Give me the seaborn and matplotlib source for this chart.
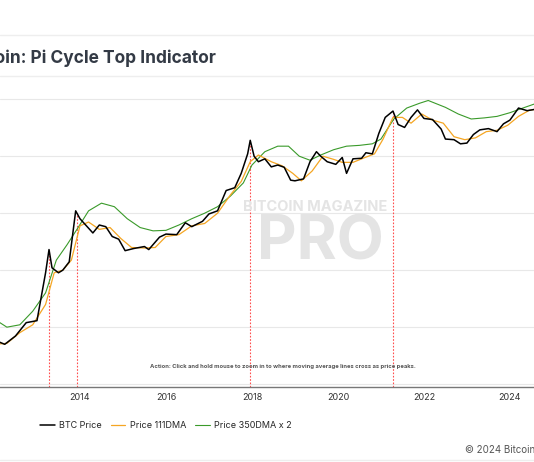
import matplotlib
matplotlib.use("Agg")
import matplotlib.pyplot as plt
import numpy as np
import pandas as pd
import seaborn as sns

# BTC price (decimal year, USD)
price_t = [2012.0, 2012.25, 2012.5, 2012.75, 2013.0, 2013.2, 2013.28, 2013.35, 2013.5, 2013.6, 2013.75,
           2013.9, 2014.0, 2014.15, 2014.3, 2014.45, 2014.6, 2014.75, 2014.9, 2015.05, 2015.25, 2015.5,
           2015.6, 2015.85, 2016.0, 2016.25, 2016.45, 2016.6, 2016.85, 2017.0, 2017.2, 2017.4, 2017.6,
           2017.75, 2017.9, 2017.96, 2018.05, 2018.15, 2018.3, 2018.45, 2018.6, 2018.75, 2018.9, 2019.0,
           2019.2, 2019.35, 2019.5, 2019.6, 2019.75, 2019.95, 2020.1, 2020.2, 2020.35, 2020.55, 2020.65,
           2020.8, 2020.95, 2021.1, 2021.28, 2021.4, 2021.55, 2021.7, 2021.85, 2022.0, 2022.2, 2022.4,
           2022.5, 2022.7, 2022.85, 2023.0, 2023.15, 2023.3, 2023.5, 2023.7, 2023.85, 2024.0, 2024.2,
           2024.4, 2024.56]
price_v = [6, 5, 7, 12, 13, 90, 230, 110, 90, 100, 140,
           1100, 800, 600, 450, 620, 580, 390, 350, 220, 240, 260,
           230, 380, 430, 420, 680, 580, 720, 970, 1100, 2500, 2800,
           5000, 11000, 19000, 10000, 8000, 9000, 6500, 7000, 6400, 3800, 3700,
           4000, 8000, 12000, 10000, 8000, 7200, 9500, 5000, 9000, 9200, 11500,
           11000, 25000, 48000, 62000, 36000, 32000, 48000, 65000, 46000, 44000, 30000,
           20000, 19500, 16500, 17000, 24000, 29000, 30500, 27000, 37000, 43000, 70000,
           63000, 66000]

dma111_t = [2012.0, 2012.3, 2012.6, 2012.9, 2013.2, 2013.4, 2013.6, 2013.8, 2014.0, 2014.2, 2014.45,
            2014.7, 2014.95, 2015.2, 2015.5, 2015.75, 2016.0, 2016.3, 2016.6, 2016.9, 2017.2, 2017.5,
            2017.75, 2017.96, 2018.15, 2018.45, 2018.7, 2018.95, 2019.15, 2019.4, 2019.65, 2019.9,
            2020.1, 2020.35, 2020.6, 2020.85, 2021.05, 2021.28, 2021.5, 2021.7, 2021.95, 2022.2,
            2022.45, 2022.7, 2022.95, 2023.2, 2023.45, 2023.7, 2023.95, 2024.2, 2024.45, 2024.56]
dma111_v = [5, 5.2, 8, 11, 25, 90, 100, 150, 600, 700, 520,
            560, 360, 250, 245, 250, 390, 420, 600, 660, 1000, 2100,
            3600, 8000, 10500, 8000, 6800, 5000, 3700, 5500, 10000, 8800,
            7800, 7800, 9300, 11000, 20000, 48000, 48000, 38000, 55000, 43000,
            38000, 22000, 19500, 21000, 27000, 28500, 35000, 50000, 64000, 66000]

dma350_t = [2012.0, 2012.3, 2012.6, 2012.9, 2013.2, 2013.45, 2013.7, 2013.95, 2014.2, 2014.5, 2014.8,
            2015.1, 2015.4, 2015.7, 2016.0, 2016.3, 2016.6, 2016.9, 2017.2, 2017.5, 2017.8, 2018.0,
            2018.3, 2018.6, 2018.85, 2019.1, 2019.35, 2019.6, 2019.9, 2020.2, 2020.5, 2020.8, 2021.0,
            2021.3, 2021.6, 2021.9, 2022.1, 2022.5, 2022.8, 2023.1, 2023.4, 2023.7, 2024.0, 2024.3, 2024.56]
dma350_v = [14, 10, 11, 19, 40, 150, 280, 550, 1100, 1500, 1300,
            800, 560, 490, 500, 620, 800, 1000, 1300, 2000, 3400, 7000,
            12000, 15000, 15000, 10000, 8500, 10500, 13000, 15000, 15500, 16500, 20000,
            45000, 70000, 85000, 95000, 72000, 55000, 45000, 47000, 50000, 58000, 70000, 82000]

cross_t = [2013.28, 2013.93, 2017.96, 2021.28]
cross_v = [230, 1000, 17000, 60000]

sns.set_style("white")
plt.rcParams['font.family'] = ['Inter', 'DejaVu Sans']

fig = plt.figure(figsize=(5.34, 4.62), dpi=100)
ax = fig.add_axes([0, 1 - 387 / 462, 1, (387 - 77) / 462])

ax.set_yscale('log')
ax.set_ylim(10 ** -0.05, 10 ** 5.39)
ax.set_xlim(2012.14, 2024.56)

for lv in [1, 10, 100, 1000, 1e4, 1e5]:
    ax.axhline(lv, color='#e8e8e8', lw=0.8, zorder=0)

# watermark
fig.text(320 / 534, 1 - 243 / 462, 'PRO', fontsize=44, fontweight='bold', color='#e4e4e4', ha='center', va='center', zorder=0)
fig.text(315 / 534, 1 - 207 / 462, 'BITCOIN MAGAZINE', fontsize=10.5, fontweight='bold', color='#e4e4e4', ha='center', va='center', zorder=0)

for t, v in zip(cross_t, cross_v):
    ax.plot([t, t], [10 ** -0.05, v], color='#ff4d4d', lw=0.8, ls=(0, (1.5, 1.5)), zorder=1)

sns.lineplot(x=dma350_t, y=dma350_v, ax=ax, color='#3a9a2a', lw=0.8, label='Price 350DMA x 2')
sns.lineplot(x=dma111_t, y=dma111_v, ax=ax, color='#f5a623', lw=0.9, label='Price 111DMA')
sns.lineplot(x=price_t, y=price_v, ax=ax, color='black', lw=1.1, label='BTC Price')

ax.set_yticks([])
ax.set_xticks([2012, 2014, 2016, 2018, 2020, 2022, 2024])
ax.set_xticklabels(['2012', '2014', '2016', '2018', '2020', '2022', '2024'], fontsize=6.5, color='#333333')
ax.tick_params(axis='x', length=0, pad=4)
ax.set_xlim(2012.14, 2024.56)
ax.set_xlabel('')
ax.set_ylabel('')
for s in ['top', 'left', 'right']:
    ax.spines[s].set_visible(False)
ax.spines['bottom'].set_color('#777777')
ax.spines['bottom'].set_linewidth(1.0)

ax.text(0.28, 0.06, 'Action: Click and hold mouse to zoom in to where moving average lines cross as price peaks.',
        transform=ax.transAxes, fontsize=4.2, fontweight='bold', color='#555555')

handles, labels = ax.get_legend_handles_labels()
order = [2, 1, 0]
ax.legend([handles[i] for i in order], [labels[i] for i in order], loc='center left',
          bbox_to_anchor=(0.06, 1 - 426 / 462), bbox_transform=fig.transFigure, ncol=3, frameon=False,
          fontsize=6.5, handlelength=1.6, columnspacing=1.0, handletextpad=0.5)

fig.text(-0.072, 1 - 58 / 462, 'Bitcoin: Pi Cycle Top Indicator', fontsize=12.5, fontweight='bold',
         color='#333a45', va='center')
fig.add_artist(plt.Line2D([0, 1], [1 - 35 / 462, 1 - 35 / 462], color='#eeeeee', lw=1))
fig.add_artist(plt.Line2D([0, 1], [1 - 76 / 462, 1 - 76 / 462], color='#eeeeee', lw=1))
fig.add_artist(plt.Line2D([0, 1], [1 - 460 / 462, 1 - 460 / 462], color='#eeeeee', lw=1))
fig.text(0.87, 1 - 450 / 462, '© 2024 Bitcoin Magazine Pro', fontsize=7, color='#555555', va='center')

fig.savefig('out.png', dpi=100)
